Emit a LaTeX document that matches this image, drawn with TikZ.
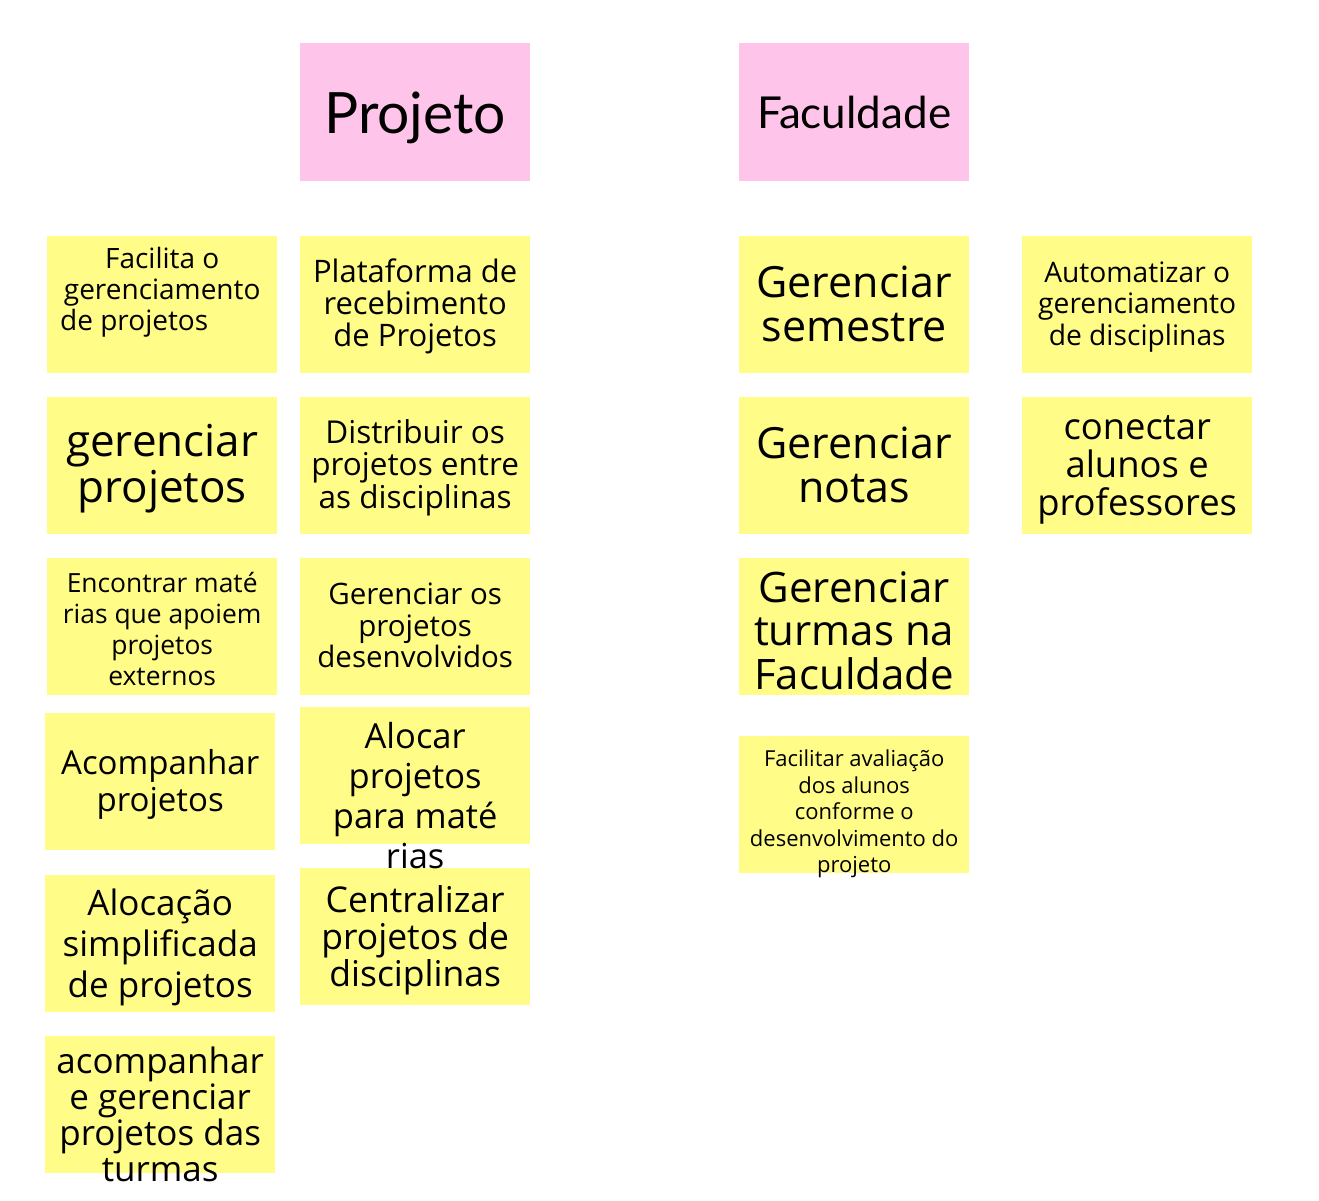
\documentclass[tikz,border=0pt]{standalone}
\usepackage{fontspec}
\setmainfont{Open Sans}
\newfontfamily\headfont{Lato}
\definecolor{postit}{HTML}{FFFD87}
\definecolor{postitpink}{HTML}{FFC4E9}
\newcommand{\nsize}[2]{\fontsize{#1}{#2}\selectfont}
\tikzset{
  note/.style={fill=postit,minimum width=230pt,minimum height=137pt,
    inner sep=0pt,anchor=north west},
  headnote/.style={note,fill=postitpink,minimum height=138pt},
  notetext/.style={align=center,inner sep=0pt},
}
\begin{document}
\begin{tikzpicture}[x=1pt,y=-1pt]
  \useasboundingbox (0,0) rectangle (1319,1200);
  % headers
  \node[headnote] (proj) at (300,43) {};
  \node[headnote] (fac) at (739,43) {};
  \node[notetext,yshift=-6pt,font=\headfont\fontsize{57}{60}\selectfont] (projt) at (proj.center) {Projeto};
  \node[notetext,font=\headfont\fontsize{44}{48}\selectfont] (fact) at (fac.center) {Faculdade};
  % first column
  \node[note] (c1a) at (47,236) {};
  \node[note] (c1b) at (47,397) {};
  \node[note] (c1c) at (47,558) {};
  \node[note] (c1d) at (45,713) {};
  \node[note] (c1e) at (45,875) {};
  \node[note] (c1f) at (45,1036) {};
  \node[notetext,yshift=12pt,font=\nsize{28}{31}] (c1at) at (c1a.center)
    {Facilita o\\gerenciamento\\de projetos\rule{56pt}{0pt}};
  \node[notetext,yshift=-2.5pt,font=\nsize{44}{46}] (c1bt) at (c1b.center) {gerenciar\\projetos};
  \node[notetext,yshift=-2pt,font=\nsize{26.4}{31}] (c1ct) at (c1c.center)
    {Encontrar maté\\rias que apoiem\\projetos\\externos};
  \node[notetext,yshift=-3pt,font=\nsize{33}{37}] (c1dt) at (c1d.center) {Acompanhar\\projetos};
  \node[notetext,yshift=-4pt,font=\nsize{35}{41}] (c1et) at (c1e.center)
    {Alocação\\simplificada\\de projetos};
  \node[notetext,yshift=-10pt,font=\nsize{35}{36}] (c1ft) at (c1f.center)
    {acompanhar\\e gerenciar\\projetos das\\turmas};
  % second column
  \node[note] (c2a) at (300,236) {};
  \node[note] (c2b) at (300,397) {};
  \node[note] (c2c) at (300,558) {};
  \node[note] (c2d) at (300,707) {};
  \node[note] (c2e) at (300,868) {};
  \node[notetext,yshift=-2pt,font=\nsize{31}{32}] (c2at) at (c2a.center)
    {Plataforma de\\recebimento\\de Projetos};
  \node[notetext,yshift=-2pt,font=\nsize{31.5}{32.5}] (c2bt) at (c2b.center)
    {Distribuir os\\projetos entre\\as disciplinas};
  \node[notetext,yshift=1pt,font=\nsize{29.5}{31.5}] (c2ct) at (c2c.center)
    {Gerenciar os\\projetos\\desenvolvidos};
  \node[notetext,yshift=-19.5pt,font=\nsize{34.5}{40}] (c2dt) at (c2d.center)
    {Alocar\\projetos\\para maté\\rias};
  \node[notetext,yshift=-4pt,font=\nsize{35.5}{37}] (c2et) at (c2e.center)
    {Centralizar\\projetos de\\disciplinas};
  % third column
  \node[note] (c3a) at (739,236) {};
  \node[note] (c3b) at (739,397) {};
  \node[note] (c3c) at (739,558) {};
  \node[note] (c3d) at (739,736) {};
  \node[notetext,yshift=1pt,font=\nsize{43}{44}] (c3at) at (c3a.center) {Gerenciar\\semestre};
  \node[notetext,yshift=1pt,font=\nsize{43}{43.5}] (c3bt) at (c3b.center) {Gerenciar\\notas};
  \node[notetext,yshift=-4pt,font=\nsize{42}{43.5}] (c3ct) at (c3c.center)
    {Gerenciar\\turmas na\\Faculdade};
  \node[notetext,yshift=-9.5pt,font=\nsize{22}{26.5}] (c3dt) at (c3d.center)
    {Facilitar avaliação\\dos alunos\\conforme o\\desenvolvimento do\\projeto};
  % fourth column
  \node[note] (c4a) at (1022,236) {};
  \node[note] (c4b) at (1022,397) {};
  \node[notetext,yshift=-2pt,font=\nsize{28.2}{31.5}] (c4at) at (c4a.center)
    {Automatizar o\\gerenciamento\\de disciplinas};
  \node[notetext,yshift=-4pt,font=\nsize{36.4}{38}] (c4bt) at (c4b.center)
    {conectar\\alunos e\\professores};
\end{tikzpicture}
\end{document}
